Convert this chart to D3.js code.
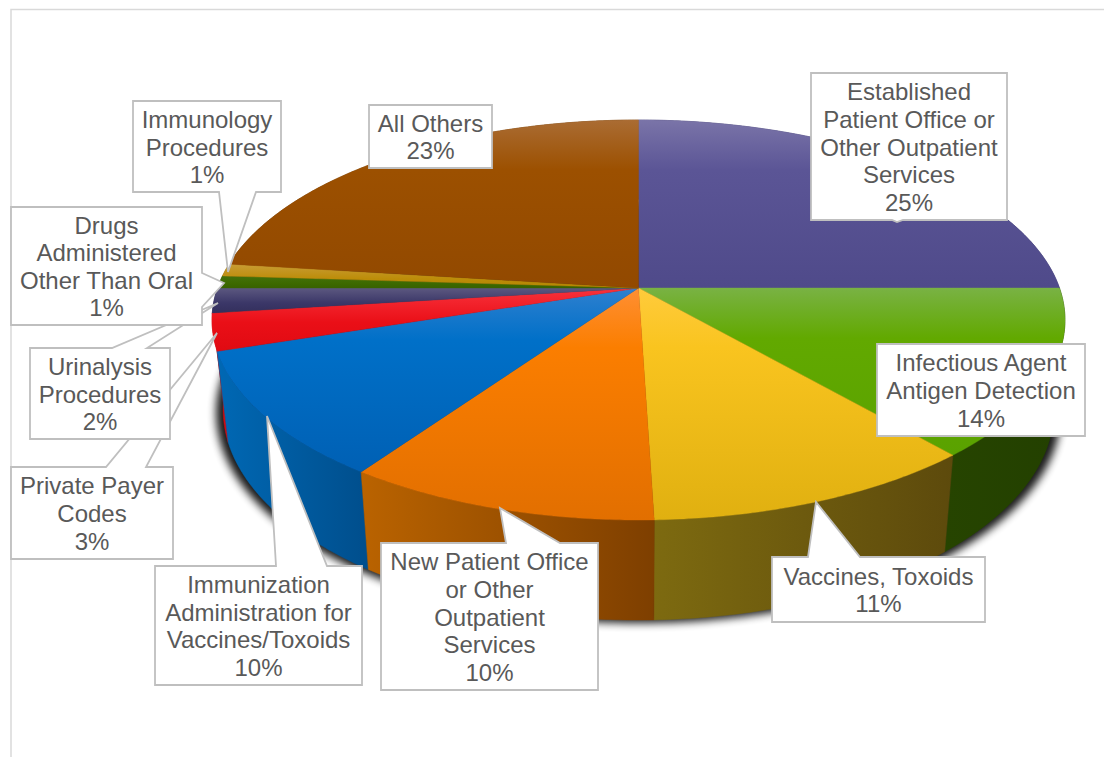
<!DOCTYPE html>
<html><head><meta charset="utf-8">
<script src="https://cdn.jsdelivr.net/npm/d3@7/dist/d3.min.js"></script>
<style>html,body{margin:0;padding:0;background:#fff;overflow:hidden}svg{display:block}</style>
</head><body><svg id="c" width="1104" height="757"></svg>
<script>
// ---- data ----
const categories = ["Established Patient Office or Other Outpatient Services","Infectious Agent Antigen Detection","Vaccines, Toxoids","New Patient Office or Other Outpatient Services","Immunization Administration for Vaccines/Toxoids","Private Payer Codes","Urinalysis Procedures","Drugs Administered Other Than Oral","Immunology Procedures","All Others"];
const sliceValues = [25,13.6,10.9,10.2,10.3,3,2,1,1,23];
const percentLabels = ["25%","14%","11%","10%","10%","3%","2%","1%","1%","23%"];
const labelLines = [
 ["Established","Patient Office or","Other Outpatient","Services"],
 ["Infectious Agent","Antigen Detection"],
 ["Vaccines, Toxoids"],
 ["New Patient Office","or Other","Outpatient","Services"],
 ["Immunization","Administration for","Vaccines/Toxoids"],
 ["Private Payer","Codes"],
 ["Urinalysis","Procedures"],
 ["Drugs","Administered","Other Than Oral"],
 ["Immunology","Procedures"],
 ["All Others"]];
// ---- styling ----
const topStops = [
 ["#7a74a8","#5b5596","#4f4a8a"],["#79b244","#62a900","#5aa200"],["#ffcb3c","#f9c41f","#e0b010"],
 ["#ff8f33","#fb7e00","#e26f00"],["#2f80cf","#0070c8","#0060b4"],["#f8323c","#ea0f17","#e00a12"],
 ["#5c5880","#3b3768","#332f5c"],["#44700c","#3d6a00","#386200"],["#c89c35","#bd8d0a","#b48500"],["#aa6c33","#9c5000","#924900"]];
const wallStops = [
 ["#3e3a6e","#3e3a6e"],["#264400","#234000"],["#7d6a10","#5d4a0c"],["#ba6300","#7e3f00"],["#0068b4","#004e8c"],
 ["#d00a12","#d00a12"],["#2a2750","#2a2750"],["#2f5000","#2f5000"],["#8a6500","#8a6500"],["#6f3800","#6f3800"]];
// callout layout: box, optional pointer wedge
const callouts = [
 {i:5,x0:11,y0:467,x1:173,y1:559,p:{side:"top",a:106,b:146,tx:217,ty:333}},
 {i:6,x0:30,y0:348,x1:170,y1:439,p:{side:"top",a:112,b:147,tx:218,ty:303}},
 {i:7,x0:11,y0:207,x1:202,y1:325,p:{side:"right",a:273,b:307,tx:224,ty:283}},
 {i:8,x0:133,y0:101,x1:281,y1:192,p:{side:"bottom",a:219,b:256,tx:228,ty:272}},
 {i:9,x0:369,y0:105,x1:492,y1:168},
 {i:0,x0:811,y0:73,x1:1007,y1:220,p:{side:"bottom",a:892,b:903,tx:897,ty:222}},
 {i:1,x0:877,y0:344,x1:1085,y1:436},
 {i:2,x0:772,y0:557,x1:985,y1:622,p:{side:"top",a:808,b:860,tx:816,ty:502}},
 {i:3,x0:381,y0:543,x1:598,y1:690,p:{side:"top",a:506,b:560,tx:500,ty:508}},
 {i:4,x0:155,y0:566,x1:362,y1:685,p:{side:"top",a:276,b:327,tx:267,ty:416}}];

const svg = d3.select("#c"), defs = svg.append("defs");
// frame
svg.append("path").attr("d","M11,757V9.5H1104").attr("fill","none").attr("stroke","#d9d9d9").attr("stroke-width",1.5);

// perspective projection of the pie disc (top and bottom faces)
const K=-0.16;
const project=(f,a)=>{const u=Math.sin(a),v=-Math.cos(a),d=1+K*v;return [638.5+f.b*u/d,f.y+f.a*v/d];};
const topFace={b:421,a:194.9,y:288}, botFace={b:410,a:205,y:376}, shadowFace={b:417,a:205,y:379};
const pie=d3.pie().sort(null).startAngle(0).endAngle(2*Math.PI)(sliceValues);
const line=d3.line();
const arcPts=(f,s,e)=>{const n=Math.max(2,Math.ceil((e-s)/0.01));return d3.range(n+1).map(k=>project(f,s+(e-s)*k/n));};

// shadow
defs.append("filter").attr("id","sh").attr("x","-10%").attr("y","-10%").attr("width","120%").attr("height","120%")
  .append("feGaussianBlur").attr("stdDeviation",4);
svg.append("path").attr("d",line(arcPts(shadowFace,0,2*Math.PI))+"Z")
  .attr("fill","#000").attr("opacity",.9).attr("filter","url(#sh)");

// walls, back to front
pie.forEach((d,i)=>{
  const g=defs.append("linearGradient").attr("id","w"+i).attr("x1",0).attr("x2",1).attr("y1",0).attr("y2",0);
  wallStops[i].forEach((c,k)=>g.append("stop").attr("offset",k).attr("stop-color",c));
});
pie.map((d,i)=>({d,i,z:-Math.cos((d.startAngle+d.endAngle)/2)})).sort((a,b)=>a.z-b.z).forEach(({d,i})=>{
  const pts=arcPts(topFace,d.startAngle,d.endAngle).concat(arcPts(botFace,d.startAngle,d.endAngle).reverse());
  svg.append("path").attr("d",line(pts)+"Z").attr("fill",`url(#w${i})`).attr("stroke",`url(#w${i})`).attr("stroke-width",.5);
});

// top faces
pie.forEach((d,i)=>{
  const g=defs.append("linearGradient").attr("id","t"+i).attr("x1",0).attr("x2",0).attr("y1",0).attr("y2",1);
  const pts=[[638.5,288]].concat(arcPts(topFace,d.startAngle,d.endAngle));
  const ys=d3.extent(pts,p=>p[1]),h=ys[1]-ys[0];
  const mid=Math.min(.6,25/h+.15);
  topStops[i].forEach((c,k)=>g.append("stop").attr("offset",[0,mid,1][k]).attr("stop-color",c));
  svg.append("path").attr("d",line(pts)+"Z").attr("fill",`url(#t${i})`).attr("stroke",`url(#t${i})`).attr("stroke-width",.4);
});

// callouts
const calloutPath=c=>{
  const {x0,y0,x1,y1,p}=c,pts=[[x0,y0]];
  if(p&&p.side==="top")pts.push([p.a,y0],[p.tx,p.ty],[p.b,y0]);
  pts.push([x1,y0]);
  if(p&&p.side==="right")pts.push([x1,p.a],[p.tx,p.ty],[x1,p.b]);
  pts.push([x1,y1]);
  if(p&&p.side==="bottom")pts.push([p.b,y1],[p.tx,p.ty],[p.a,y1]);
  pts.push([x0,y1]);
  return line(pts)+"Z";
};
const fontSize=24,lh=27.6;
const cg=svg.selectAll("g.callout").data(callouts).join("g").attr("class","callout");
cg.append("path").attr("d",calloutPath).attr("fill","#fff").attr("stroke","#bfbfbf").attr("stroke-width",1.8);
cg.each(function(c){
  const lines=labelLines[c.i].concat(percentLabels[c.i]);
  const cx=(c.x0+c.x1)/2,cy=(c.y0+c.y1)/2;
  d3.select(this).selectAll("text").data(lines).join("text")
    .attr("x",cx).attr("y",(l,k)=>cy+(k-(lines.length-1)/2)*lh+9)
    .attr("text-anchor","middle").attr("fill","#595959")
    .attr("font-family","'Liberation Sans',Arial,sans-serif").attr("font-size",fontSize).text(l=>l);
});
</script></body></html>
